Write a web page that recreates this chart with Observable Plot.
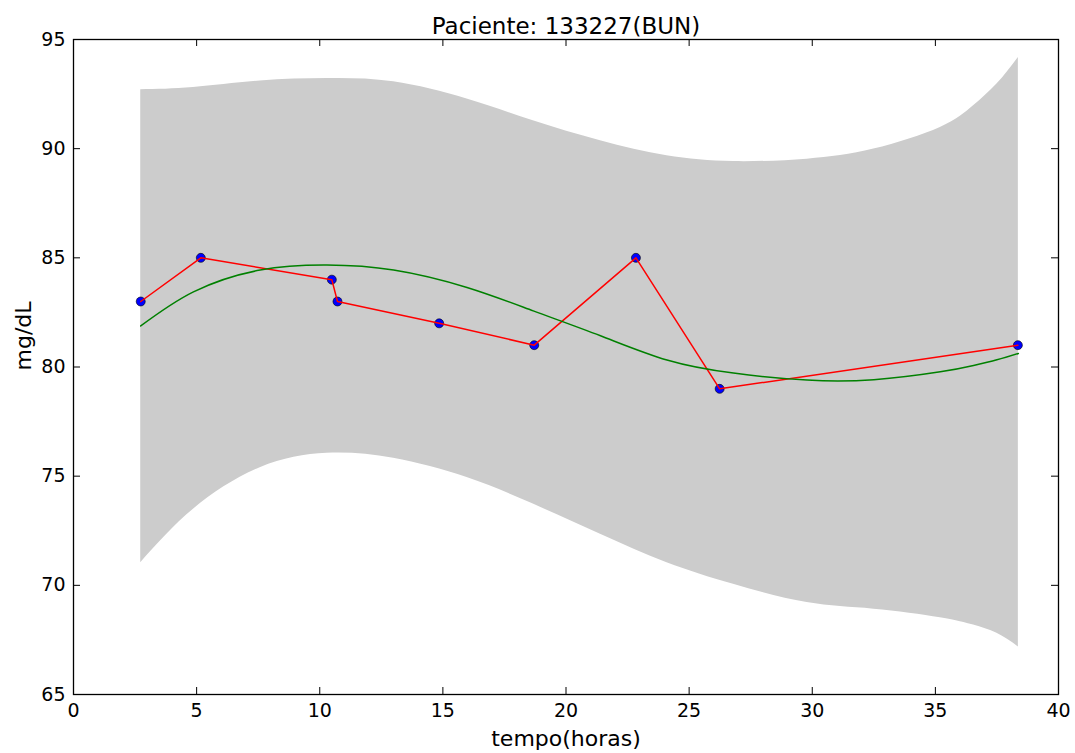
<!DOCTYPE html>
<html><head><meta charset="utf-8">
<script src="https://cdn.jsdelivr.net/npm/d3@7"></script>
<script src="https://cdn.jsdelivr.net/npm/@observablehq/plot@0.6"></script>
<style>body{margin:0;background:#fff}</style></head>
<body><div id="chart"></div>
<script>
// Observations
const obsTime = [2.73, 5.17, 10.49, 10.72, 14.85, 18.71, 22.84, 26.24, 38.35];
const obsBUN  = [83, 85, 84, 83, 82, 81, 85, 79, 81];
// Fitted curve and confidence band
const fitTime   = [2.73, 4.87, 7.58, 10.29, 13.0, 15.98, 18.67, 21.4, 24.1, 26.8, 29.79, 32.5, 35.2, 36.55, 37.5, 38.37];
const fitMean   = [81.88, 83.44, 84.44, 84.67, 84.44, 83.64, 82.57, 81.43, 80.32, 79.72, 79.40, 79.42, 79.78, 80.07, 80.33, 80.62];
const bandLower = [71.04, 73.49, 75.39, 76.05, 75.82, 74.94, 73.72, 72.34, 71.04, 70.05, 69.21, 68.91, 68.52, 68.18, 67.80, 67.18];
const bandUpper = [92.70, 92.80, 93.10, 93.21, 93.06, 92.27, 91.28, 90.36, 89.67, 89.41, 89.52, 89.98, 90.97, 91.96, 92.96, 94.18];
const xTicks = [0, 5, 10, 15, 20, 25, 30, 35, 40];
const yTicks = [65, 70, 75, 80, 85, 90, 95];
const titleText = "Paciente: 133227(BUN)";
const xLabel = "tempo(horas)";
const yLabel = "mg/dL";

const obs = obsTime.map((t, i) => ({t, v: obsBUN[i]}));
const fit = fitTime.map((t, i) => ({t, mean: fitMean[i], lo: bandLower[i], hi: bandUpper[i]}));

const W = 1075, H = 753, mL = 73, mR = 17, mT = 39, mB = 59;
const fw = W - mL - mR, fh = H - mT - mB, tick = 7;

const chart = Plot.plot({
  width: W, height: H,
  marginLeft: mL, marginRight: mR, marginTop: mT, marginBottom: mB,
  style: {fontFamily: "DejaVu Sans", fontSize: "19px", color: "black", background: "white"},
  x: {domain: [0, 40], ticks: xTicks, tickSize: 0, tickPadding: 9, label: null},
  y: {domain: [65, 95], ticks: yTicks, tickSize: 0, tickPadding: 8, label: null},
  marks: [
    Plot.areaY(fit, {x: "t", y1: "lo", y2: "hi", fill: "#cccccc", curve: "natural"}),
    Plot.dot(obs, {x: "t", y: "v", r: 4.5, fill: "blue", stroke: "black", strokeWidth: 0.6}),
    Plot.line(obs, {x: "t", y: "v", stroke: "red", strokeWidth: 1.5}),
    Plot.line(fit, {x: "t", y: "mean", stroke: "green", strokeWidth: 1.5, curve: "natural"}),
    Plot.tickX(xTicks, {x: d => d, insetTop: fh - tick, stroke: "black"}),
    Plot.tickX(xTicks, {x: d => d, insetBottom: fh - tick, stroke: "black"}),
    Plot.tickY(yTicks, {y: d => d, insetRight: fw - tick, stroke: "black"}),
    Plot.tickY(yTicks, {y: d => d, insetLeft: fw - tick, stroke: "black"}),
    Plot.frame({stroke: "black", strokeWidth: 1.3}),
    Plot.text([titleText], {text: d => d, frameAnchor: "top", lineAnchor: "middle", dy: -13, fontSize: 23, fill: "black"}),
    Plot.text([xLabel], {text: d => d, frameAnchor: "bottom", lineAnchor: "middle", dy: 44, fontSize: 22, fill: "black"}),
    Plot.text([yLabel], {text: d => d, frameAnchor: "left", lineAnchor: "middle", rotate: -90, dx: -49.5, dy: 3.5, fontSize: 22, fill: "black"})
  ]
});
document.getElementById("chart").appendChild(chart);
</script>
</body></html>
